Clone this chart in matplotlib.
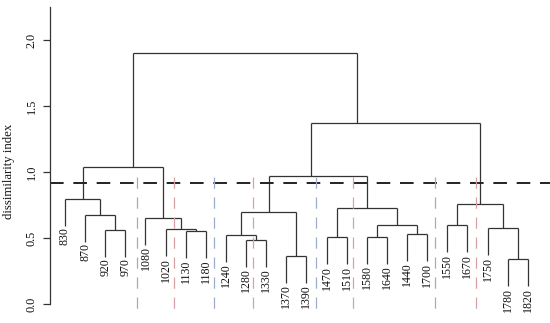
import matplotlib
matplotlib.use("Agg")
import matplotlib.pyplot as plt

# ---- data ----
leaf_labels = ["830", "870", "920", "970", "1080", "1020", "1130", "1180",
               "1240", "1280", "1330", "1370", "1390", "1470", "1510", "1580",
               "1640", "1440", "1700", "1550", "1670", "1750", "1780", "1820"]

# R hclust-style merge table: negative = leaf -(i+1), positive = earlier merge (1-based)
merge_left = [-3, -2, -1, -7, -6, -5, 3, -10, -9, -12, 9, -14, -16, -18, 13, 12, 11,
              -20, -23, -22, 18, 17, 7]
merge_right = [-4, 1, 2, -8, 4, 5, 6, -11, 8, -13, 10, -15, -17, -19, 14, 15, 16,
               -21, -24, 19, 20, 21, 22]
merge_height = [0.561, 0.677, 0.798, 0.555, 0.566, 0.654, 1.040, 0.485, 0.525, 0.364,
                0.697, 0.505, 0.510, 0.530, 0.596, 0.727, 0.972, 0.596, 0.339, 0.573,
                0.755, 1.369, 1.904]
# where the upward link sits between the two children (0.5 = midpoint)
link_frac = [0.5, 0.5, 0.5, 0.5, 0.5, 0.5, 0.624, 0.5, 0.5, 0.5, 0.5, 0.5, 0.5, 0.5,
             0.5, 0.5, 0.434, 0.5, 0.5, 0.5, 0.5, 0.27, 0.5]

cut_height = 0.92
boundary_pos = [3.56, 5.42, 7.41, 9.36, 12.47, 14.30, 18.39, 20.43]
boundary_kind = ["b", "r", "b", "r", "b", "r", "b", "r"]
yticks = [0.0, 0.5, 1.0, 1.5, 2.0]
ytick_labels = ["0.0", "0.5", "1.0", "1.5", "2.0"]
hang = 0.205

plt.rcParams["font.family"] = ["Liberation Serif", "DejaVu Serif"]

fig = plt.figure(figsize=(5.5, 3.23), dpi=100)
ax = fig.add_axes([50 / 550, 0, 500 / 550, 1])
ax.set_xlim(-0.7455, 24.105)
ax.set_ylim(-0.144, 2.303)

line_col = "#333333"
node_x = {}
for k in range(len(merge_height)):
    h = merge_height[k]
    xs = []
    for c in (merge_left[k], merge_right[k]):
        if c < 0:
            i = -c - 1
            xs.append(i)
            ax.plot([i, i], [h - hang, h], color=line_col, lw=0.9, solid_capstyle="butt")
            ax.text(i, h - hang - 0.012, leaf_labels[i], rotation=90, ha="center",
                    va="top", fontsize=8.6, color="#111111")
        else:
            cx = node_x[c]
            xs.append(cx)
            ax.plot([cx, cx], [merge_height[c - 1], h], color=line_col, lw=0.9,
                    solid_capstyle="butt")
    ax.plot([xs[0], xs[1]], [h, h], color=line_col, lw=0.9, solid_capstyle="butt")
    node_x[k + 1] = xs[0] + link_frac[k] * (xs[1] - xs[0])

ax.axhline(cut_height, color="#222222", lw=1.4, linestyle=(0, (7, 5)))
cols = {"b": "#9dabcf", "r": "#d9a0a4"}
for p, kd in zip(boundary_pos, boundary_kind):
    ax.plot([p, p], [0.96, -0.075], color=cols[kd], lw=0.9, linestyle=(0, (9, 7)))

for s in ["top", "right", "bottom"]:
    ax.spines[s].set_visible(False)
ax.spines["left"].set_bounds(0, 2.25)
ax.spines["left"].set_color(line_col)
ax.spines["left"].set_linewidth(0.9)
ax.set_xticks([])
ax.set_yticks(yticks)
ax.set_yticklabels(ytick_labels, rotation=90, va="center")
ax.tick_params(axis="y", length=5, width=0.9, color=line_col, pad=4,
               labelsize=8.8, labelcolor="#111111")
ax.set_ylabel("dissimilarity index", fontsize=9.2, color="#111111")
ax.yaxis.set_label_coords(-0.07, 0.47)
ax.patch.set_alpha(0)

fig.savefig("out.png", dpi=100)
